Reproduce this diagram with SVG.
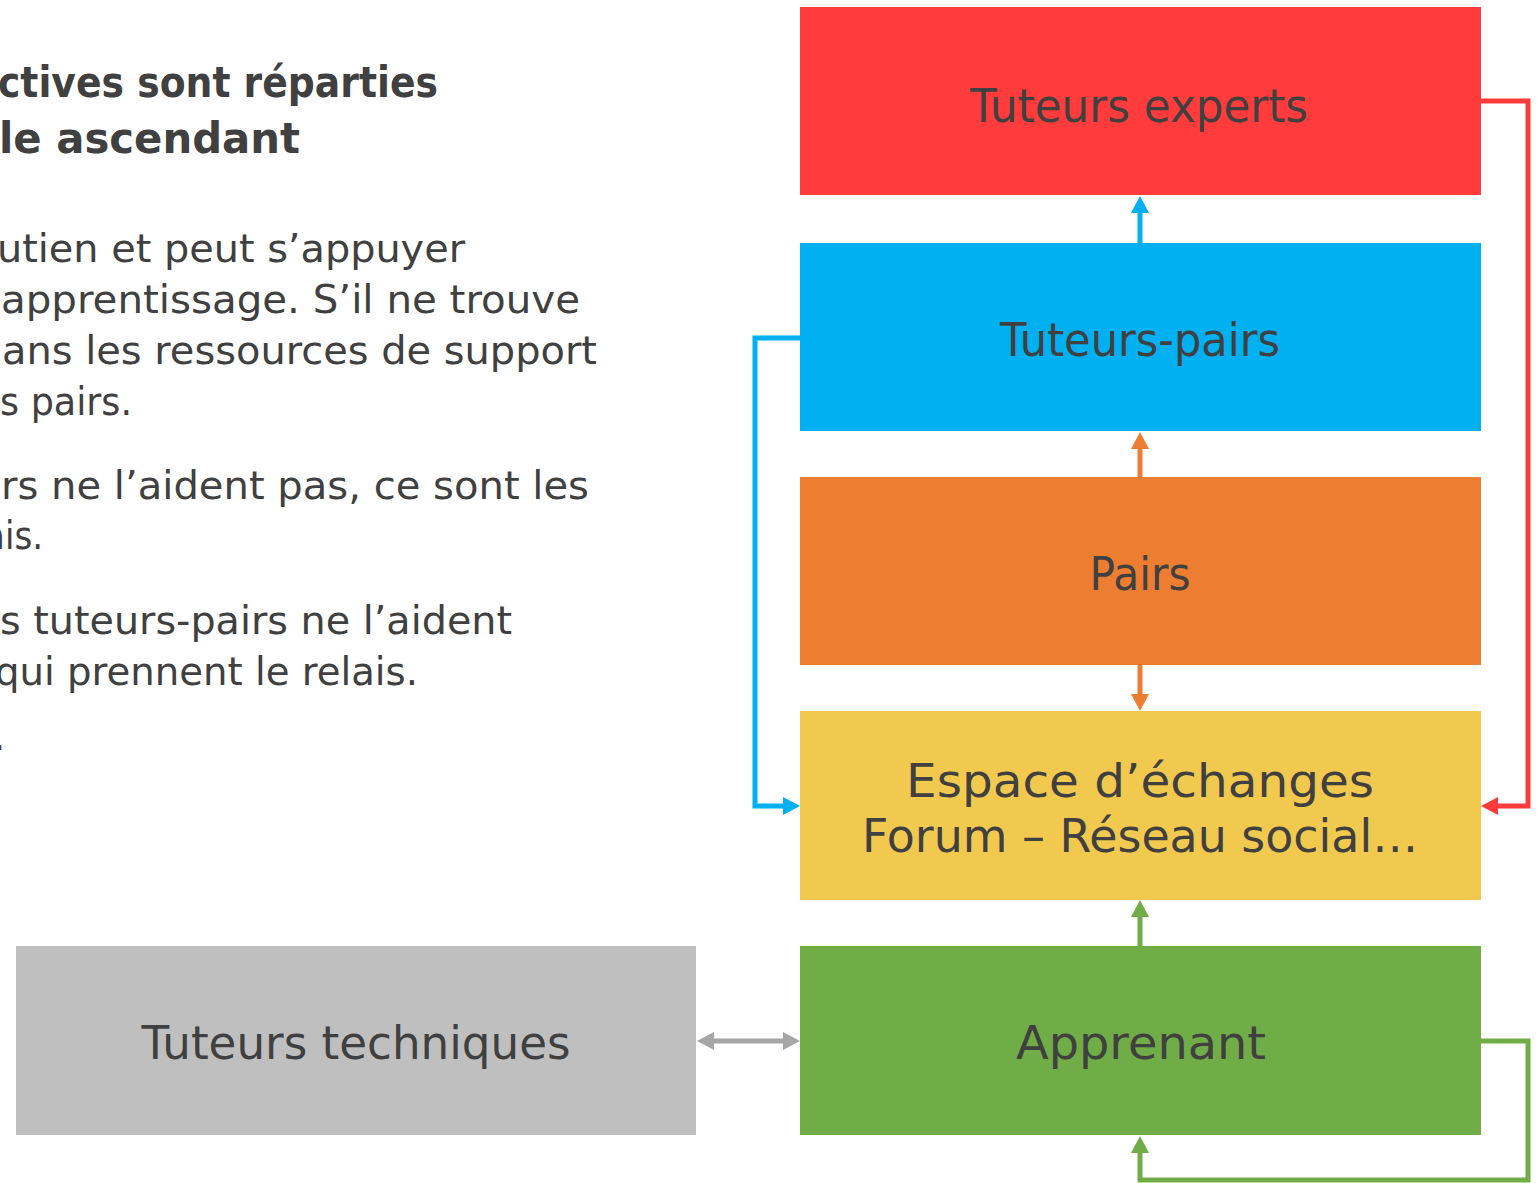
<svg xmlns="http://www.w3.org/2000/svg" width="1539" height="1183" viewBox="0 0 1539 1183">
<style>
.t{font-family:"Century Gothic","DejaVu Sans",sans-serif;fill:#404040;}
.h{font-size:42px;font-weight:bold;}
.b{font-size:39px;}
.n{font-size:46px;text-anchor:middle;}
.c{fill:none;stroke-width:5;}
</style>
<defs>
<marker id="mB" viewBox="0 0 17 18" refX="0" refY="9" markerWidth="17" markerHeight="18" markerUnits="userSpaceOnUse" orient="auto"><path d="M0,0L17,9L0,18z" fill="#00B0F0"/></marker>
<marker id="mO" viewBox="0 0 17 18" refX="0" refY="9" markerWidth="17" markerHeight="18" markerUnits="userSpaceOnUse" orient="auto"><path d="M0,0L17,9L0,18z" fill="#ED7D31"/></marker>
<marker id="mG" viewBox="0 0 17 18" refX="0" refY="9" markerWidth="17" markerHeight="18" markerUnits="userSpaceOnUse" orient="auto"><path d="M0,0L17,9L0,18z" fill="#70AD47"/></marker>
<marker id="mR" viewBox="0 0 17 18" refX="0" refY="9" markerWidth="17" markerHeight="18" markerUnits="userSpaceOnUse" orient="auto"><path d="M0,0L17,9L0,18z" fill="#FF3B3B"/></marker>
<marker id="mY" viewBox="0 0 17 18" refX="0" refY="9" markerWidth="17" markerHeight="18" markerUnits="userSpaceOnUse" orient="auto-start-reverse"><path d="M0,0L17,9L0,18z" fill="#A6A6A6"/></marker>
</defs>
<rect width="1539" height="1183" fill="#FFFFFF"/>
<g id="texte">
<text class="t h" x="-2" y="97" textLength="440" lengthAdjust="spacingAndGlyphs">ctives sont réparties</text>
<text class="t h" x="-1" y="153" textLength="301" lengthAdjust="spacingAndGlyphs">le ascendant</text>
<text class="t b" x="-3" y="262" textLength="468" lengthAdjust="spacingAndGlyphs">utien et peut s’appuyer</text>
<text class="t b" x="1" y="313" textLength="579" lengthAdjust="spacingAndGlyphs">apprentissage. S’il ne trouve</text>
<text class="t b" x="2" y="364" textLength="595" lengthAdjust="spacingAndGlyphs">ans les ressources de support</text>
<text class="t b" x="0" y="415" textLength="132" lengthAdjust="spacingAndGlyphs">s pairs.</text>
<text class="t b" x="1" y="499" textLength="588" lengthAdjust="spacingAndGlyphs">rs ne l’aident pas, ce sont les</text>
<text class="t b" x="-16" y="549" textLength="59" lengthAdjust="spacingAndGlyphs">ais.</text>
<text class="t b" x="0" y="634" textLength="512" lengthAdjust="spacingAndGlyphs">s tuteurs-pairs ne l’aident</text>
<text class="t b" x="-5" y="685" textLength="423" lengthAdjust="spacingAndGlyphs">qui prennent le relais.</text>
<text class="t b" x="-7" y="750">.</text>
</g>
<g id="connecteurs">
<path class="c" stroke="#00B0F0" d="M1140,243V213" marker-end="url(#mB)"/>
<path class="c" stroke="#ED7D31" d="M1140,477V449" marker-end="url(#mO)"/>
<path class="c" stroke="#ED7D31" d="M1140,665V694" marker-end="url(#mO)"/>
<path class="c" stroke="#70AD47" d="M1140,946V917" marker-end="url(#mG)"/>
<path class="c" stroke="#00B0F0" stroke-width="6" d="M800,338H755V806H783" marker-end="url(#mB)"/>
<path class="c" stroke="#FF3B3B" d="M1481,101H1528V806H1498" marker-end="url(#mR)"/>
<path class="c" stroke="#A6A6A6" stroke-width="6" d="M714,1041H783" marker-start="url(#mY)" marker-end="url(#mY)"/>
<path class="c" stroke="#70AD47" d="M1481,1041H1528V1180H1140V1153" marker-end="url(#mG)"/>
</g>
<g id="tuteurs-experts">
<rect x="800" y="7" width="681" height="188" fill="#FF3B3B"/>
<text class="t n" x="1139" y="122" textLength="338" lengthAdjust="spacingAndGlyphs">Tuteurs experts</text>
</g>
<g id="tuteurs-pairs">
<rect x="800" y="243" width="681" height="188" fill="#00B0F0"/>
<text class="t n" x="1140" y="356" textLength="280" lengthAdjust="spacingAndGlyphs">Tuteurs-pairs</text>
</g>
<g id="pairs">
<rect x="800" y="477" width="681" height="188" fill="#ED7D31"/>
<text class="t n" x="1140" y="590" textLength="101" lengthAdjust="spacingAndGlyphs">Pairs</text>
</g>
<g id="espace">
<rect x="800" y="711" width="681" height="189" fill="#F2C94F"/>
<text class="t n" x="1140" y="797" textLength="468" lengthAdjust="spacingAndGlyphs">Espace d’échanges</text>
<text class="t n" x="1140" y="852" textLength="556" lengthAdjust="spacingAndGlyphs">Forum – Réseau social…</text>
</g>
<g id="apprenant">
<rect x="800" y="946" width="681" height="189" fill="#70AD47"/>
<text class="t n" x="1141" y="1059" textLength="250" lengthAdjust="spacingAndGlyphs">Apprenant</text>
</g>
<g id="tuteurs-techniques">
<rect x="16" y="946" width="680" height="189" fill="#BFBFBF"/>
<text class="t n" x="356" y="1059" textLength="429" lengthAdjust="spacingAndGlyphs">Tuteurs techniques</text>
</g>
</svg>
